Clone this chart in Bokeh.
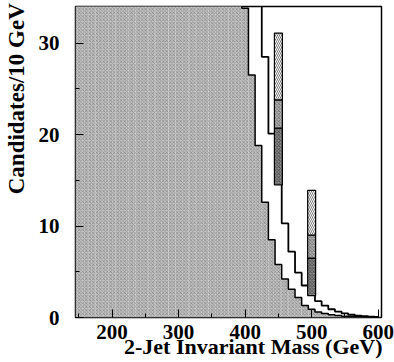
from bokeh.plotting import figure
from bokeh.models import Range1d, FixedTicker
from bokeh.embed import file_html
from bokeh.resources import INLINE

# bin centres (GeV), 10 GeV bins
mass = [150, 160, 170, 180, 190, 200, 210, 220, 230, 240, 250, 260, 270, 280, 290,
        300, 310, 320, 330, 340, 350, 360, 370, 380, 390, 400, 410, 420, 430, 440,
        450, 460, 470, 480, 490, 500, 510, 520, 530, 540, 550, 560, 570, 580, 590, 600]

# background (hatched, filled) - bins below 400 are off scale
background = [420, 520, 560, 540, 500, 450, 400, 350, 300, 260, 220, 190, 160, 135, 115,
              98, 84, 72, 62, 54, 48, 43, 39, 36.5, 35.5, 33.8, 26.5, 18.8, 12.6, 8.5,
              5.8, 4.2, 3.1, 2.2, 1.3, 0.9, 0.6, 0.45, 0.3, 0.22, 0.15, 0.1, 0.07, 0.05, 0.03, 0.02]

# background + signal (open histogram)
total = [430, 530, 575, 560, 520, 475, 425, 375, 325, 285, 245, 212, 182, 157, 137,
         120, 106, 94, 84, 76, 69, 63, 57, 52, 47, 42, 37.5, 35.0, 28.5, 20.1,
         16.0, 10.3, 7.2, 4.9, 3.5, 2.6, 1.8, 1.3, 0.9, 0.65, 0.45, 0.3, 0.2, 0.14, 0.1, 0.07]

# uncertainty boxes
box_center = [450, 500]
box_low = [14.5, 2.4]
box_mid1 = [20.7, 6.5]
box_mid2 = [23.8, 9.0]
box_high = [31.1, 13.9]
box_half = 6

x_ticks = [200, 300, 400, 500, 600]
y_ticks = [0, 10, 20, 30]
x_title = "2-Jet Invariant Mass (GeV)"
y_title = "Candidates/10 GeV"

FONT = "Liberation Serif"

p = figure(width=394, height=362, output_backend="svg", toolbar_location=None,
           x_range=Range1d(145, 605), y_range=Range1d(0, 34),
           min_border_left=72, min_border_right=13, min_border_top=6, min_border_bottom=45)

p.xgrid.visible = False
p.ygrid.visible = False
p.outline_line_color = "black"
p.outline_line_width = 1.5
p.background_fill_color = "white"
p.border_fill_color = "white"

half = 5
lefts = [m - half for m in mass]
rights = [m + half for m in mass]

# filled background with cross hatch
p.quad(left=lefts, right=rights, bottom=0, top=background,
       fill_color="#c4c4c4", line_alpha=0,
       hatch_pattern="diagonal_cross", hatch_color="#3a3a3a",
       hatch_scale=3.5, hatch_weight=0.5, hatch_alpha=0.7)
p.step(x=mass, y=background, mode="center", line_color="black", line_width=1.5)

# open total histogram
p.step(x=mass, y=total, mode="center", line_color="black", line_width=1.8)

# uncertainty boxes
bl = [c - box_half for c in box_center]
br = [c + box_half for c in box_center]
p.quad(left=bl, right=br, bottom=box_low, top=box_mid1,
       fill_color="#8a8a8a", line_color="black", line_width=1.2,
       hatch_pattern="diagonal_cross", hatch_color="#222222", hatch_scale=3.5, hatch_weight=0.6)
p.quad(left=bl, right=br, bottom=box_mid1, top=box_mid2,
       fill_color="#b5b5b5", line_color="black", line_width=1.2,
       hatch_pattern="diagonal_cross", hatch_color="#444444", hatch_scale=3.5, hatch_weight=0.6)
p.quad(left=bl, right=br, bottom=box_mid2, top=box_high,
       fill_color="white", line_color="black", line_width=1.2,
       hatch_pattern="left_diagonal_line", hatch_color="#555555", hatch_scale=4, hatch_weight=0.8)

# axes
for ax in (p.xaxis[0], p.yaxis[0]):
    ax.axis_line_color = None
    ax.major_tick_in = 8
    ax.major_tick_out = 0
    ax.minor_tick_in = 4
    ax.minor_tick_out = 0
    ax.major_tick_line_color = "black"
    ax.minor_tick_line_color = "black"
    ax.major_label_text_font = FONT
    ax.major_label_text_font_style = "bold"
    ax.major_label_text_font_size = "21px"
    ax.major_label_text_color = "black"
    ax.axis_label_text_font = FONT
    ax.axis_label_text_font_style = "bold"
    ax.axis_label_text_color = "black"

p.xaxis.ticker = FixedTicker(ticks=x_ticks, minor_ticks=[150, 250, 350, 450, 550])
p.yaxis.ticker = FixedTicker(ticks=y_ticks, minor_ticks=[5, 15, 25])
p.xaxis.major_label_standoff = 7
p.yaxis.major_label_standoff = 16

# titles sit toward the axis ends: pad their start with no-break spaces
p.xaxis.axis_label = "\u00a0" * 9 + x_title
p.xaxis.axis_label_text_font_size = "22px"
p.xaxis.axis_label_standoff = -8

p.yaxis.axis_label = "\u00a0" * 22 + y_title
p.yaxis.axis_label_text_font_size = "23px"
p.yaxis.axis_label_standoff = 7

open("out.html", "w").write(file_html(p, INLINE))
